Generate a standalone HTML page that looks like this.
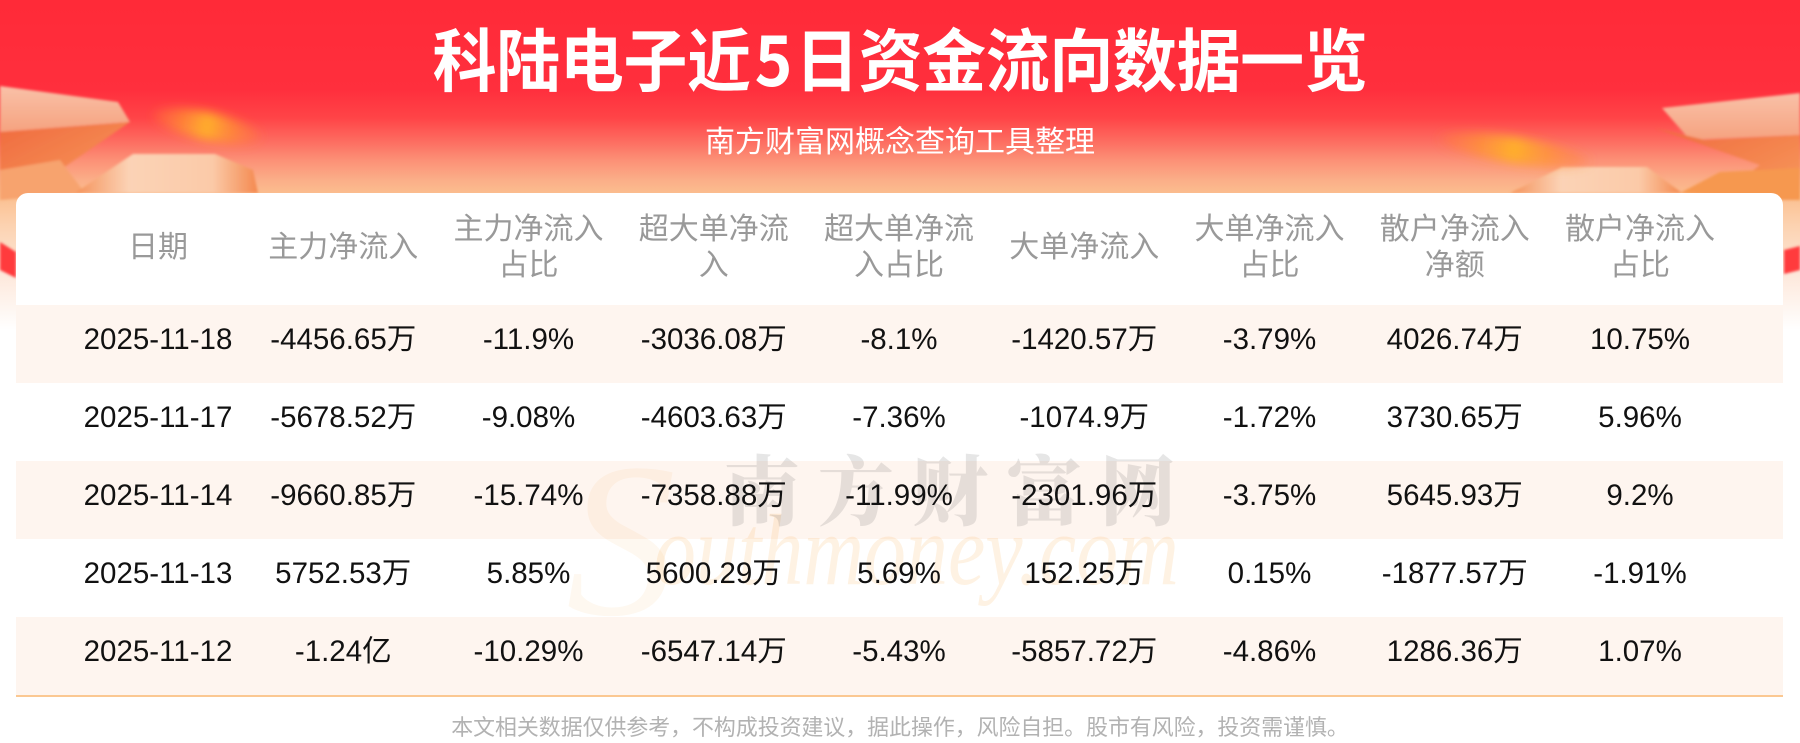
<!DOCTYPE html>
<html><head><meta charset="utf-8">
<style>
*{margin:0;padding:0;box-sizing:border-box}
html,body{width:1800px;height:743px;overflow:hidden;background:#fff}
body{position:relative;font-family:"Liberation Sans","Noto Sans CJK SC",sans-serif}
.bg{position:absolute;left:0;top:0;width:1800px;height:330px;
background:linear-gradient(180deg,#ff2a38 0px,#ff2f3d 90px,#ff4447 118px,#fd6a5f 140px,#fc9076 160px,#fbae88 180px,#fbbf8f 195px,#fcd2b0 225px,#fde6d8 270px,#fff 330px)}
.deco{position:absolute;left:0;top:0}
.title{position:absolute;left:0;top:25px;width:1800px;text-align:center;font-family:"Noto Sans CJK SC",sans-serif;font-weight:700;font-size:64px;line-height:64px;color:#fff;letter-spacing:-0.4px;transform:scaleY(1.07);white-space:nowrap}
.title .d{margin:0 3px 0 4px}
.sub{position:absolute;left:0;top:124px;width:1800px;text-align:center;font-family:"Noto Sans CJK SC",sans-serif;font-size:30px;line-height:30px;color:#fff;white-space:nowrap}
.card{position:absolute;left:16px;top:193px;width:1767px;height:560px;background:#fff;border-radius:12px 12px 0 0}
.band{position:absolute;left:16px;width:1767px;height:78px;background:#fef5ef}
.hline{position:absolute;left:16px;width:1767px;top:695px;height:2px;background:#fbc892}
.row{position:absolute;left:65.375px;width:1667.25px;display:flex}
.row div{width:185.25px;flex:none;text-align:center;white-space:nowrap}
.head{top:193px;height:112px;padding-bottom:10px;align-items:center}
.head div{font-family:"Noto Sans CJK SC",sans-serif;font-size:30px;line-height:36px;color:#999}
.data{height:78px;padding-bottom:8px;align-items:center}
.data div{font-size:29.5px;line-height:29.5px;color:#111}
.wm1{position:absolute;left:724px;top:449px;font-family:"Noto Serif CJK SC",serif;font-weight:900;font-size:76px;line-height:76px;letter-spacing:18px;color:rgba(60,60,60,0.13);white-space:nowrap}
.wm2{position:absolute;left:654px;top:518px;font-family:"Liberation Serif",serif;font-style:italic;font-size:84px;line-height:84px;color:rgba(247,160,60,0.14);transform:scaleY(1.2);transform-origin:left bottom;white-space:nowrap}
.wmS{position:absolute;left:566px;top:430px;font-family:"Liberation Serif",serif;font-style:italic;font-size:220px;line-height:220px;color:rgba(247,165,60,0.08)}
.foot{position:absolute;left:0;top:716px;width:1800px;text-align:center;font-family:"Noto Sans CJK SC",sans-serif;font-size:21.9px;line-height:21.9px;color:#b2b2b2;white-space:nowrap}
</style></head><body>
<div class="bg"></div>
<svg class="deco" width="1800" height="330" viewBox="0 0 1800 330">
<defs>
<filter id="b4" x="-50%" y="-100%" width="200%" height="300%"><feGaussianBlur stdDeviation="5"/></filter>
<filter id="b1"><feGaussianBlur stdDeviation="1.2"/></filter>
<linearGradient id="gold" x1="0" x2="1" y1="0" y2="0"><stop offset="0" stop-color="#ff7a3a" stop-opacity="0.3"/><stop offset="0.5" stop-color="#ffb02a"/><stop offset="1" stop-color="#ff7a3a" stop-opacity="0.3"/></linearGradient>
<linearGradient id="lp" x1="0" y1="0" x2="0" y2="1"><stop offset="0" stop-color="#f9c1a8"/><stop offset="1" stop-color="#f6a27f"/></linearGradient>
<linearGradient id="or" x1="0" y1="0" x2="1" y2="1"><stop offset="0" stop-color="#f06a3e"/><stop offset="1" stop-color="#f79a5c"/></linearGradient>
<linearGradient id="bx" x1="0" y1="0" x2="1" y2="0"><stop offset="0" stop-color="#f5925a"/><stop offset="0.3" stop-color="#fbd3b6"/><stop offset="0.75" stop-color="#fbcaa8"/><stop offset="1" stop-color="#f4894f"/></linearGradient>
</defs>
<g filter="url(#b1)">
<polygon points="0,86 118,102 130,122 0,132" fill="url(#lp)"/>
<polygon points="0,132 130,122 60,170 0,188" fill="url(#or)"/>
<polygon points="0,170 60,160 85,193 0,200" fill="#f7a36e"/>
<polygon points="75,193 133,154 215,154 253,170 258,193" fill="url(#bx)"/>
<polygon points="1662,108 1800,93 1800,135 1690,140" fill="url(#lp)"/>
<polygon points="1655,128 1705,140 1800,135 1800,200 1715,200 1760,165" fill="url(#or)"/>
<polygon points="1510,193 1562,167 1647,167 1682,193" fill="url(#bx)"/>
<polygon points="1680,193 1720,172 1800,168 1800,200" fill="#f6984f"/>
<polygon points="0,242 16,252 16,278 0,270" fill="#ff3a3c"/>
<polygon points="1784,250 1800,246 1800,270 1784,274" fill="#ff3a3c"/>
</g>
<ellipse cx="207" cy="126" rx="55" ry="14" transform="rotate(12 207 126)" fill="url(#gold)" filter="url(#b4)"/>
<ellipse cx="1514" cy="150" rx="76" ry="13" transform="rotate(9 1514 150)" fill="url(#gold)" filter="url(#b4)"/>
</svg>
<div class="title">科陆电子近<span class="d">5</span>日资金流向数据一览</div>
<div class="sub">南方财富网概念查询工具整理</div>
<div class="card"></div>
<div class="band" style="top:305px"></div>
<div class="band" style="top:461px"></div>
<div class="band" style="top:617px"></div>
<div class="hline"></div>
<div class="wmS">S</div>
<div class="wm2">outhmoney.com</div>
<div class="wm1">南方财富网</div>
<div class="row head">
<div>日期</div><div>主力净流入</div><div>主力净流入<br>占比</div><div>超大单净流<br>入</div><div>超大单净流<br>入占比</div><div>大单净流入</div><div>大单净流入<br>占比</div><div>散户净流入<br>净额</div><div>散户净流入<br>占比</div>
</div>
<div class="row data" style="top:305px">
<div>2025-11-18</div><div>-4456.65万</div><div>-11.9%</div><div>-3036.08万</div><div>-8.1%</div><div>-1420.57万</div><div>-3.79%</div><div>4026.74万</div><div>10.75%</div>
</div>
<div class="row data" style="top:383px">
<div>2025-11-17</div><div>-5678.52万</div><div>-9.08%</div><div>-4603.63万</div><div>-7.36%</div><div>-1074.9万</div><div>-1.72%</div><div>3730.65万</div><div>5.96%</div>
</div>
<div class="row data" style="top:461px">
<div>2025-11-14</div><div>-9660.85万</div><div>-15.74%</div><div>-7358.88万</div><div>-11.99%</div><div>-2301.96万</div><div>-3.75%</div><div>5645.93万</div><div>9.2%</div>
</div>
<div class="row data" style="top:539px">
<div>2025-11-13</div><div>5752.53万</div><div>5.85%</div><div>5600.29万</div><div>5.69%</div><div>152.25万</div><div>0.15%</div><div>-1877.57万</div><div>-1.91%</div>
</div>
<div class="row data" style="top:617px">
<div>2025-11-12</div><div>-1.24亿</div><div>-10.29%</div><div>-6547.14万</div><div>-5.43%</div><div>-5857.72万</div><div>-4.86%</div><div>1286.36万</div><div>1.07%</div>
</div>
<div class="foot">本文相关数据仅供参考，不构成投资建议，据此操作，风险自担。股市有风险，投资需谨慎。</div>
</body></html>
